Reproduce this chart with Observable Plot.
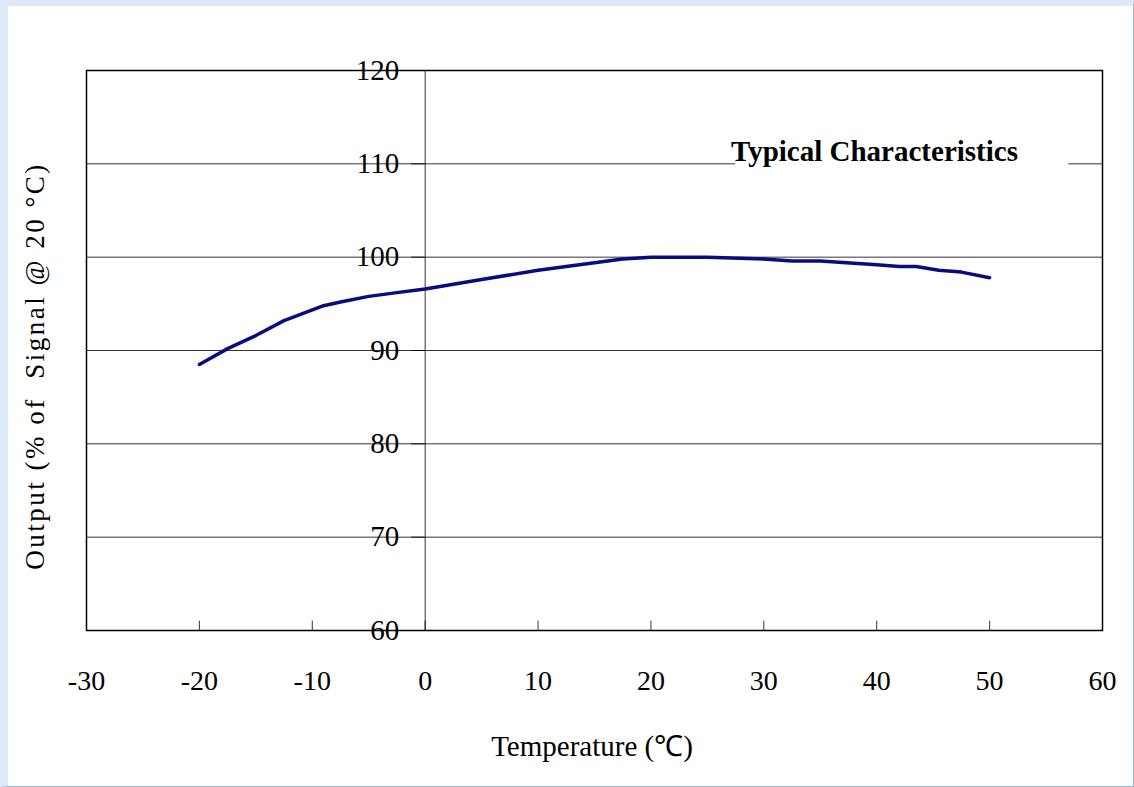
<!DOCTYPE html>
<html><head><meta charset="utf-8">
<script src="https://cdn.jsdelivr.net/npm/d3@7"></script>
<script src="https://cdn.jsdelivr.net/npm/@observablehq/plot@0.6"></script>
<style>
body{margin:0;background:#fff;}
#wrap{position:relative;border:1px solid #9fb4cc;border-left:8px solid #dde9f6;border-top:6px solid #dde9f6;box-sizing:border-box;width:1134px;height:787px;background:#fff;}
svg{font-family:"Liberation Serif","DejaVu Serif",serif;}
</style></head><body><div id="wrap"></div>
<script>
const temps = [-20,-17.5,-15,-12.5,-9,-7.5,-5,-2.5,0,5,10,15,17.5,20,25,30,32.5,35,40,42,43.5,45.5,47.5,50];
const outputs = [88.5,90.2,91.6,93.2,94.8,95.2,95.8,96.2,96.6,97.6,98.6,99.4,99.8,100,100,99.8,99.6,99.6,99.2,99.0,99.0,98.6,98.4,97.8];
const xTicks = [-30,-20,-10,0,10,20,30,40,50,60];
const yTicks = [60,70,80,90,100,110,120];
const data = temps.map((t,i)=>({t, v: outputs[i]}));

const chart = Plot.plot({
  width: 1120, height: 781,
  marginLeft: 78, marginRight: 26, marginTop: 64, marginBottom: 157,
  style:{background:"transparent", fontFamily:"Liberation Serif, serif"},
  x:{domain:[-30,60], ticks:xTicks},
  y:{domain:[60,120]},
  marks:[
    Plot.ruleY(yTicks.slice(1,-1), {stroke:"#000", strokeWidth:0.8}),
    Plot.ruleX([0], {stroke:"#000", strokeWidth:0.8}),
    Plot.ruleY([110], {x1:27.5, x2:57, stroke:"#fff", strokeWidth:3}),
    Plot.text(["Typical Characteristics"], {x:39.8, y:110, text:d=>d, fontSize:29, fontWeight:"bold", fill:"#000", dy:-12, style:{letterSpacing:"-1px"}}),
    Plot.ruleX(xTicks.slice(1,-1), {y1:60, y2:61, stroke:"#000", strokeWidth:0.8}),
    Plot.ruleY(yTicks, {x1:-1.2, x2:0, stroke:"#000", strokeWidth:0.8}),
    Plot.text(yTicks, {x:0, y:d=>d, text:d=>String(d), textAnchor:"end", dx:-26, fontSize:29, fill:"#000"}),
    Plot.line(data, {x:"t", y:"v", stroke:"#0b0b80", strokeWidth:3.5, curve:"linear"}),
    Plot.frame({stroke:"#000", strokeWidth:1.5}),
    Plot.axisX(xTicks, {tickSize:0, tickPadding:40, fontSize:28, label:null, tickFormat:d=>String(d)}),
    Plot.axisY({ticks:[], label:null, tickSize:0})
  ]
});
const svg = d3.select(chart);
svg.append("text").attr("x", 584).attr("y", 750).attr("text-anchor","middle")
  .attr("font-size",29).attr("fill","#000").text("Temperature (℃)");
svg.append("text").attr("transform","translate(36,360) rotate(-90)").attr("text-anchor","middle")
  .attr("font-size",27).attr("letter-spacing",2.5).attr("fill","#000").text("Output (% of  Signal @ 20 °C)");
document.getElementById("wrap").appendChild(chart);
</script></body></html>
